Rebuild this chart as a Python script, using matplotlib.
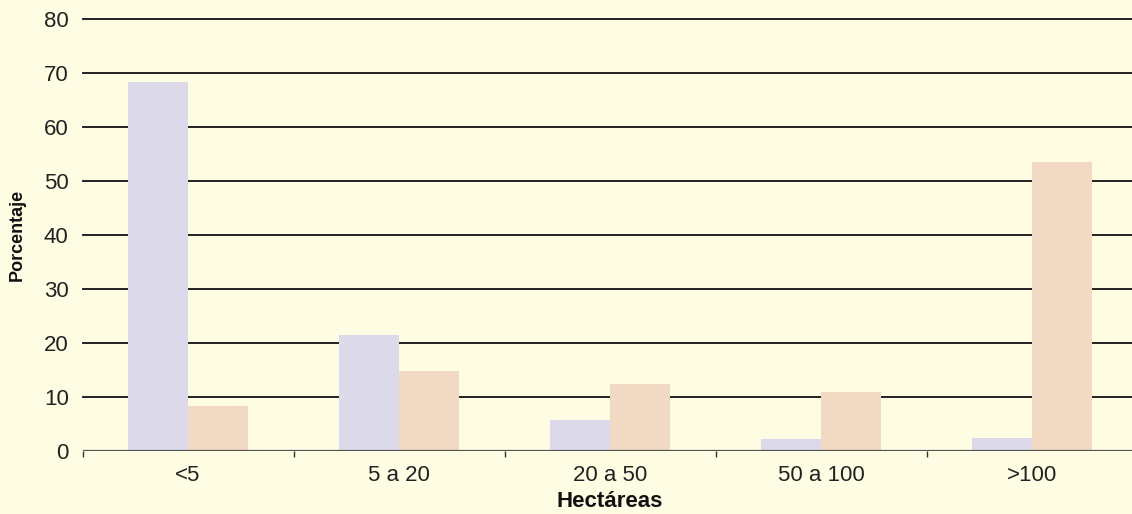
import matplotlib
matplotlib.use("Agg")
import matplotlib.pyplot as plt
import numpy as np
from matplotlib import font_manager

categories = ["<5", "5 a 20", "20 a 50", "50 a 100", ">100"]
serie_a = [68.3, 21.5, 5.7, 2.2, 2.4]
serie_b = [8.3, 14.8, 12.4, 10.9, 53.5]
yticks = [0, 10, 20, 30, 40, 50, 60, 70, 80]

names = {f.name for f in font_manager.fontManager.ttflist}
fam = "Liberation Sans Narrow" if "Liberation Sans Narrow" in names else "Liberation Sans"
plt.rcParams["font.family"] = [fam, "DejaVu Sans"]

bg = "#fefce3"
col_a = "#dcdaea"
col_b = "#f2d9c3"

fig = plt.figure(figsize=(11.32, 5.14), dpi=100, facecolor=bg)
ax = fig.add_axes([0.0729, 0.1226, 0.932, 0.8414])
ax.set_facecolor(bg)

x = np.arange(len(categories))
w = 0.285
ax.bar(x - w / 2, serie_a, width=w, color=col_a, zorder=2)
ax.bar(x + w / 2, serie_b, width=w, color=col_b, zorder=2)

ax.set_xlim(-0.5, len(categories) - 0.5)
ax.set_ylim(0, 80)
ax.set_yticks(yticks)
for v in yticks[1:]:
    ax.axhline(v, color="#111111", lw=1.3, zorder=1, clip_on=False)
ax.axhline(0, color="#555555", lw=1.6, zorder=3)

ax.set_xticks(x)
ax.set_xticklabels(categories)
ax.set_xticks(np.arange(len(categories) + 1) - 0.5, minor=True)
ax.tick_params(axis="x", which="major", length=0, pad=10, labelsize=16, colors="#222222")
ax.tick_params(axis="x", which="minor", length=4, width=1, color="#333333")
ax.tick_params(axis="y", length=0, pad=10, labelsize=16, colors="#222222")

for s in ax.spines.values():
    s.set_visible(False)

ax.set_xlabel("Hectáreas", fontsize=16, fontweight="bold", color="#111111", labelpad=4)
ax.set_ylabel("Porcentaje", fontsize=13, fontweight="bold", color="#111111", labelpad=13)

fig.savefig("out.png", dpi=100, facecolor=bg)
